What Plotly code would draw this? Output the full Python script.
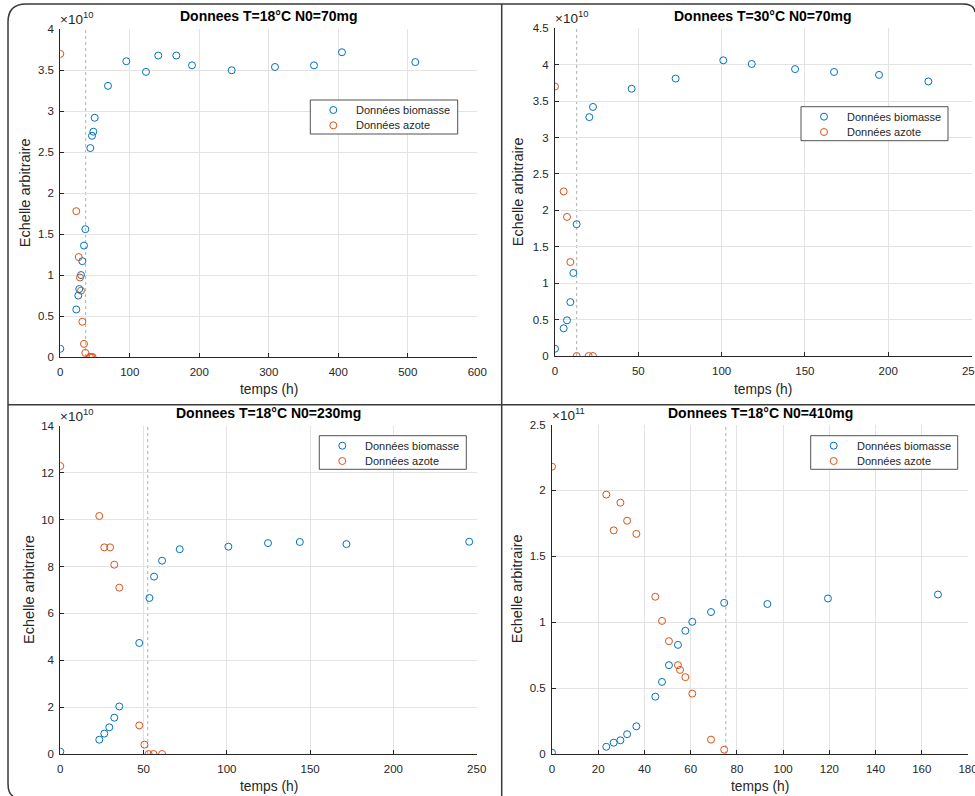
import plotly.graph_objects as go

W, H = 975, 796

# ---- data (biomass / nitrogen, arbitrary scale) ----
titles = ["Donnees T=18°C N0=70mg", "Donnees T=30°C N0=70mg",
          "Donnees T=18°C N0=230mg", "Donnees T=18°C N0=410mg"]
exponents = [10, 10, 10, 11]
series_names = ["Données biomasse", "Données azote"]

t_bio_18_70 = [0, 23.0, 25.9, 27.3, 29.8, 31.7, 34.1, 36.0, 43.2, 45.6, 47.5, 49.5, 68.6, 95.0,
               123.3, 141.0, 166.9, 189.5, 246.6, 308.9, 365.0, 405.3, 510.8]
bio_18_70 = [0.10, 0.58, 0.75, 0.83, 1.00, 1.17, 1.36, 1.56, 2.55, 2.70, 2.75, 2.92, 3.31, 3.61,
             3.48, 3.68, 3.68, 3.56, 3.50, 3.54, 3.56, 3.72, 3.60]
t_az_18_70 = [0, 23.0, 26.5, 28.3, 29.8, 31.7, 34.1, 36.0, 42.5, 44.5, 46.5]
az_18_70 = [3.70, 1.78, 1.22, 0.97, 0.81, 0.43, 0.16, 0.05, 0, 0, 0]

t_bio_30_70 = [0, 5.2, 7.2, 9.2, 11.0, 13.0, 20.6, 22.8, 46.0, 72.4, 101.0, 118.1, 144.1,
               167.5, 194.5, 224.1]
bio_30_70 = [0.10, 0.38, 0.49, 0.74, 1.14, 1.81, 3.28, 3.42, 3.67, 3.81, 4.06, 4.01, 3.94,
             3.90, 3.86, 3.77]
t_az_30_70 = [0, 5.2, 7.2, 9.2, 13.0, 20.2, 22.8]
az_30_70 = [3.70, 2.26, 1.91, 1.29, 0, 0, 0]

t_bio_18_230 = [0, 23.4, 26.4, 29.4, 32.4, 35.4, 47.4, 53.5, 56.3, 61.1, 71.7, 100.9, 124.7,
                143.8, 171.8, 245.5]
bio_18_230 = [0.10, 0.61, 0.87, 1.14, 1.55, 2.03, 4.74, 6.66, 7.57, 8.25, 8.74, 8.85, 9.00,
              9.05, 8.96, 9.06]
t_az_18_230 = [0, 23.4, 26.4, 29.9, 32.4, 35.4, 47.4, 50.5, 53.0, 56.0, 61.1]
az_18_230 = [12.29, 10.16, 8.82, 8.82, 8.08, 7.10, 1.22, 0.40, 0, 0, 0]

t_bio_18_410 = [0, 23.5, 26.7, 29.6, 32.5, 36.5, 44.7, 47.6, 50.6, 54.5, 57.7, 60.7, 68.8,
                74.5, 93.2, 119.4, 167.0]
bio_18_410 = [0.010, 0.055, 0.086, 0.104, 0.150, 0.210, 0.435, 0.547, 0.674, 0.828, 0.935,
              1.003, 1.077, 1.147, 1.138, 1.180, 1.210]
t_az_18_410 = [0, 23.5, 26.7, 29.6, 32.5, 36.5, 44.7, 47.6, 50.6, 54.5, 55.4, 57.7, 60.7,
               68.8, 74.5]
az_18_410 = [2.180, 1.968, 1.697, 1.907, 1.770, 1.670, 1.193, 1.010, 0.856, 0.674, 0.638,
             0.583, 0.458, 0.109, 0.033]

# time at which nitrogen is exhausted (dotted marker line)
t_exhaust = [36.5, 13.0, 52.5, 75.2]

x_ranges = [[0, 600], [0, 250], [0, 250], [0, 180]]
x_dticks = [100, 50, 50, 20]
y_ranges = [[0, 4], [0, 4.5], [0, 14], [0, 2.5]]
y_dticks = [0.5, 0.5, 2, 0.5]

series = [
    (t_bio_18_70, bio_18_70, t_az_18_70, az_18_70),
    (t_bio_30_70, bio_30_70, t_az_30_70, az_30_70),
    (t_bio_18_230, bio_18_230, t_az_18_230, az_18_230),
    (t_bio_18_410, bio_18_410, t_az_18_410, az_18_410),
]

# ---- layout geometry (pixels) ----
plot_boxes = [  # left, top, right, bottom
    (60.3, 29.3, 477.3, 357.0),
    (555.0, 28.3, 971.5, 356.0),
    (60.3, 426.0, 476.7, 754.0),
    (552.0, 424.5, 968.0, 754.0),
]
legend_boxes = [  # left, top, right, bottom
    (310.3, 100.0, 457.7, 134.0),
    (801.0, 106.7, 948.0, 140.7),
    (319.3, 435.7, 466.3, 469.3),
    (810.7, 435.7, 957.7, 469.3),
]
ylabel_x = [25, 518, 29, 517]
xlabel_y = [389, 389, 786, 786]
title_y = [16, 16, 413, 413]

BLUE = "#0072BD"
ORANGE = "#D95319"
COLORS = [BLUE, ORANGE]
AX = "#262626"
FONT = "Liberation Sans, Arial, Helvetica, sans-serif"


def px(x):
    return x / W


def py(y):
    return 1 - y / H


fig = go.Figure()
annotations = []
shapes = []
layout = {}

for i in range(4):
    n = "" if i == 0 else str(i + 1)
    xa, ya = "x" + n, "y" + n
    tb, b, ta, a = series[i]
    for (tx, vy), name, col in zip([(tb, b), (ta, a)], series_names, COLORS):
        fig.add_trace(go.Scatter(
            x=tx, y=vy, mode="markers", name=name, xaxis=xa, yaxis=ya, showlegend=False,
            marker=dict(symbol="circle-open", size=7, color=col, line=dict(width=1, color=col))))

    l, t, r, bt = plot_boxes[i]
    axis_common = dict(
        showline=True, linecolor=AX, linewidth=1, mirror=False,
        ticks="inside", ticklen=4, tickcolor=AX, tickwidth=1,
        showgrid=True, gridcolor="#e3e3e3", gridwidth=1, zeroline=False, automargin=False,
        tickfont=dict(family=FONT, size=11.5, color=AX), fixedrange=True,
        ticklabeloverflow="allow",
    )
    layout["xaxis" + n] = dict(axis_common, domain=[px(l), px(r)], range=x_ranges[i],
                               tick0=0, dtick=x_dticks[i], anchor=ya, ticklabelstandoff=4)
    layout["yaxis" + n] = dict(axis_common, domain=[py(bt), py(t)], range=y_ranges[i],
                               tick0=0, dtick=y_dticks[i], anchor=xa, ticklabelstandoff=3)

    # legend box
    bl, btop, br, bb = legend_boxes[i]
    shapes.append(dict(type="rect", xref="paper", yref="paper",
                       x0=px(bl), x1=px(br), y0=py(bb), y1=py(btop),
                       fillcolor="white", line=dict(color=AX, width=0.8), layer="above"))
    for k, (name, col) in enumerate(zip(series_names, COLORS)):
        rowy = btop + 10.0 + 15.3 * k
        shapes.append(dict(type="circle", xref="paper", yref="paper",
                           xsizemode="pixel", ysizemode="pixel",
                           xanchor=px(bl + 23), yanchor=py(rowy),
                           x0=-3.5, x1=3.5, y0=-3.5, y1=3.5,
                           line=dict(color=col, width=1), layer="above"))
        annotations.append(dict(text=name, x=px(bl + 44), y=py(rowy), xref="paper", yref="paper",
                                showarrow=False, xanchor="left", yanchor="middle",
                                font=dict(family=FONT, size=11, color=AX)))

    cx = (l + r) / 2
    annotations.append(dict(text="<b>%s</b>" % titles[i], x=px(cx), y=py(title_y[i]),
                            xref="paper", yref="paper", showarrow=False,
                            font=dict(family=FONT, size=14, color="black"),
                            xanchor="center", yanchor="middle"))
    annotations.append(dict(text="temps (h)", x=px(cx), y=py(xlabel_y[i]),
                            xref="paper", yref="paper", showarrow=False,
                            font=dict(family=FONT, size=13.8, color=AX),
                            xanchor="center", yanchor="middle"))
    annotations.append(dict(text="Echelle arbitraire", x=px(ylabel_x[i]), y=py((t + bt) / 2),
                            xref="paper", yref="paper", showarrow=False, textangle=-90,
                            font=dict(family=FONT, size=14.5, color=AX),
                            xanchor="center", yanchor="middle"))
    annotations.append(dict(text="×10<sup>%d</sup>" % exponents[i], x=px(l - 1), y=py(t - 1),
                            xref="paper", yref="paper", showarrow=False,
                            font=dict(family=FONT, size=13.5, color=AX),
                            xanchor="left", yanchor="bottom", borderpad=0))

    shapes.append(dict(type="line", xref=xa, yref=ya + " domain", x0=t_exhaust[i],
                       x1=t_exhaust[i], y0=0, y1=1,
                       line=dict(color="#9a9a9a", width=0.8, dash="dot"), layer="below"))


def pt(x, y):
    return "%.5f,%.5f" % (px(x), py(y))


# panel frame with rounded corners and dividers
frame = ("M " + pt(13, 796) + " Q " + pt(8, 794) + " " + pt(8, 783) +
         " L " + pt(8, 22) + " Q " + pt(8, 4) + " " + pt(26, 4) +
         " L " + pt(963, 4) + " Q " + pt(974, 4) + " " + pt(975, 12))
shapes.append(dict(type="path", xref="paper", yref="paper", path=frame,
                   line=dict(color="#3a3a3a", width=1.5)))
shapes.append(dict(type="line", xref="paper", yref="paper", x0=px(501.7), x1=px(501.7),
                   y0=py(4), y1=py(796), line=dict(color="#3a3a3a", width=1.5)))
shapes.append(dict(type="line", xref="paper", yref="paper", x0=px(8), x1=px(975),
                   y0=py(404.7), y1=py(404.7), line=dict(color="#3a3a3a", width=1.5)))

fig.update_layout(
    width=W, height=H, autosize=False,
    margin=dict(l=0, r=0, t=0, b=0, autoexpand=False),
    paper_bgcolor="white", plot_bgcolor="white",
    showlegend=False, annotations=annotations, shapes=shapes,
    font=dict(family=FONT),
    **layout,
)

fig.write_html("out.html")
